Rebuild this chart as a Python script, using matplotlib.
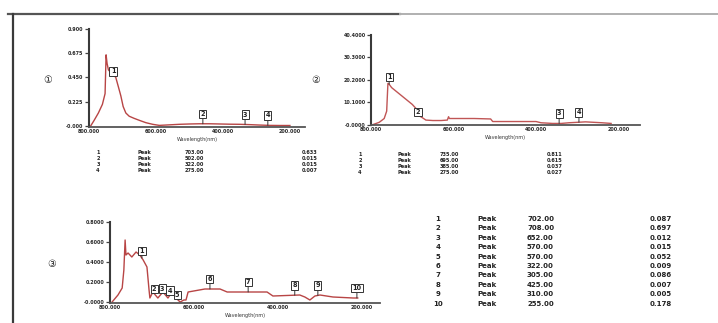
import numpy as np
import matplotlib
matplotlib.use("Agg")
import matplotlib.pyplot as plt
from matplotlib.lines import Line2D

plt.rcParams['font.family'] = ['DejaVu Sans', 'Noto Sans CJK SC']

W, H = 718, 323

# ---------------- data ----------------
# Spectrum 1
wl1 = [795, 785, 772, 760, 752, 749, 746, 742, 736, 728, 720, 712, 705, 698, 690, 680,
       665, 648, 630, 610, 590, 560, 530, 500, 470, 440, 410, 380, 350, 320, 290, 260, 230, 200]
ab1 = [0.00, 0.05, 0.12, 0.20, 0.30, 0.66, 0.58, 0.52, 0.50, 0.48, 0.45, 0.36, 0.28, 0.18,
       0.12, 0.09, 0.07, 0.05, 0.03, 0.015, 0.005, 0.01, 0.015, 0.018, 0.02, 0.02, 0.018,
       0.016, 0.015, 0.012, 0.008, 0.005, 0.004, 0.004]
peaks1 = [728, 460, 334, 266]
yticks1 = [0.0, 0.225, 0.45, 0.675, 0.9]
ytick_labels1 = ["-0.000", "0.225", "0.450", "0.675", "0.900"]

# Spectrum 2
wl2 = [795, 780, 768, 762, 759, 756, 750, 740, 730, 720, 710, 700, 691, 686, 684, 675, 667,
       650, 630, 615, 612, 610, 606, 580, 550, 510, 505, 480, 440, 400, 388, 360, 339, 320,
       300, 280, 260, 240, 218]
ab2 = [0.00, 0.01, 0.027, 0.06, 0.184, 0.18, 0.165, 0.15, 0.135, 0.12, 0.105, 0.09, 0.072,
       0.055, 0.04, 0.03, 0.02, 0.018, 0.018, 0.02, 0.035, 0.027, 0.027, 0.027, 0.027, 0.025,
       0.0135, 0.0135, 0.0135, 0.0135, 0.008, 0.005, 0.005, 0.008, 0.01, 0.012, 0.01, 0.008, 0.005]
peaks2 = [756, 686, 344, 296]
yticks2 = [0.0, 0.1, 0.2, 0.3, 0.4]
ytick_labels2 = ["-0.0000", "10.1000", "20.2000", "30.3000", "40.4000"]

# Spectrum 3
wl3 = [795, 781, 771, 767, 764, 762, 757, 748, 738, 729, 721, 712, 707, 705, 698, 686, 674,
       662, 652, 643, 633, 624, 619, 614, 574, 538, 521, 426, 412, 348, 336, 324, 312, 300,
       269, 221, 210]
ab3 = [0.00, 0.07, 0.14, 0.32, 0.62, 0.47, 0.49, 0.45, 0.50, 0.47, 0.42, 0.35, 0.12, 0.04,
       0.10, 0.04, 0.10, 0.04, 0.10, 0.04, 0.00, 0.02, 0.02, 0.10, 0.13, 0.13, 0.10, 0.10,
       0.06, 0.07, 0.05, 0.02, 0.06, 0.07, 0.05, 0.04, 0.04]
peaks3 = [724, 695, 676, 657, 640, 562, 471, 360, 305, 212]
yticks3 = [0.0, 0.2, 0.4, 0.6, 0.8]
ytick_labels3 = ["-0.0000", "0.2000", "0.4000", "0.6000", "0.8000"]

xticks = [800, 600, 400, 200]
xtick_labels = ["800.000", "600.000", "400.000", "200.000"]
xlabel = "Wavelength(nm)"

table1 = [("1", "Peak", "703.00", "0.633"),
          ("2", "Peak", "502.00", "0.015"),
          ("3", "Peak", "322.00", "0.015"),
          ("4", "Peak", "275.00", "0.007")]
table2 = [("1", "Peak", "735.00", "0.811"),
          ("2", "Peak", "695.00", "0.615"),
          ("3", "Peak", "385.00", "0.037"),
          ("4", "Peak", "275.00", "0.027")]
table3 = [("1", "Peak", "702.00", "0.087"),
          ("2", "Peak", "708.00", "0.697"),
          ("3", "Peak", "652.00", "0.012"),
          ("4", "Peak", "570.00", "0.015"),
          ("5", "Peak", "570.00", "0.052"),
          ("6", "Peak", "322.00", "0.009"),
          ("7", "Peak", "305.00", "0.086"),
          ("8", "Peak", "425.00", "0.007"),
          ("9", "Peak", "310.00", "0.005"),
          ("10", "Peak", "255.00", "0.178")]

# ---------------- helpers ----------------
def fx(x):
    return x / W

def fy(y):
    return 1 - y / H

fig = plt.figure(figsize=(W / 100, H / 100), dpi=100)
fig.patch.set_facecolor('white')

# frame of the scanned page
fig.add_artist(Line2D([fx(8), fx(400)], [fy(14), fy(14)], color='#555555', lw=1.6))
fig.add_artist(Line2D([fx(400), fx(718)], [fy(14), fy(14)], color='#b0b0b0', lw=1.4))
fig.add_artist(Line2D([fx(13), fx(13)], [fy(14), fy(323)], color='#3a3a3a', lw=1.6))


def make_axes(left, right, top, bottom, xlim, ylim, yticks, ylabels, wl, ab, peaks,
              offsets, color, fs):
    ax = fig.add_axes([fx(left), fy(bottom), fx(right - left), fy(top) - fy(bottom)])
    ax.plot(wl, ab, color=color, lw=1.0)
    ax.set_xlim(*xlim)
    ax.set_ylim(*ylim)
    for s in ['top', 'right']:
        ax.spines[s].set_visible(False)
    ax.spines['left'].set_color('#3a3a3a')
    ax.spines['left'].set_linewidth(1.5)
    ax.spines['bottom'].set_color('#555555')
    ax.spines['bottom'].set_linewidth(1.3)
    ax.set_yticks(yticks)
    ax.set_yticklabels(ylabels, fontsize=fs, color='#2a2a2a', fontweight='bold')
    ax.set_xticks(xticks)
    ax.set_xticklabels(xtick_labels, fontsize=fs, color='#2a2a2a', fontweight='bold')
    ax.tick_params(axis='y', length=3, width=0.9, pad=1, color='#444444')
    ax.tick_params(axis='x', length=0, pad=1.5)
    ax.set_xlabel(xlabel, fontsize=fs, color='#333333', labelpad=2)
    ax.patch.set_alpha(0)
    order = np.argsort(wl)
    xs = np.array(wl)[order]
    ys = np.array(ab)[order]
    for i, (p, off) in enumerate(zip(peaks, offsets)):
        yv = np.interp(p, xs, ys)
        ax.annotate(str(i + 1), xy=(p, yv), xytext=(0, off), textcoords='offset points',
                    ha='center', va='bottom', fontsize=fs + 1.2, color='#222222',
                    fontweight='bold',
                    bbox=dict(boxstyle='square,pad=0.2', fc='white', ec='#333333', lw=0.7),
                    arrowprops=dict(arrowstyle='-', lw=0.7, color='#333333',
                                    shrinkA=0, shrinkB=0))
    return ax


make_axes(89, 305, 29, 127, (800, 155), (-0.01, 0.9), yticks1, ytick_labels1,
          wl1, ab1, peaks1, [0, 5, 5, 5], '#b84545', 3.5)
make_axes(371, 640, 35, 125, (800, 148), (-0.002, 0.4), yticks2, ytick_labels2,
          wl2, ab2, peaks2, [3, -2, 5, 5], '#c05555', 3.5)
make_axes(110, 380, 222, 303, (800, 157), (-0.01, 0.8), yticks3, ytick_labels3,
          wl3, ab3, peaks3, [3, 1, 1, 1, 1, 5, 5, 5, 5, 5], '#b84545', 3.5)

# panel markers
circ_fs = 7
fig.text(fx(48), fy(80), "①", fontsize=circ_fs, ha='center', va='center', color='#222222')
fig.text(fx(316), fy(80), "②", fontsize=circ_fs, ha='center', va='center', color='#222222')
fig.text(fx(52), fy(264), "③", fontsize=circ_fs, ha='center', va='center', color='#222222')


def draw_table(rows, y0, dy, cols, fs):
    for i, row in enumerate(rows):
        y = fy(y0 + i * dy)
        fig.text(fx(cols[0]), y, row[0], fontsize=fs, ha='center', va='center',
                 fontweight='bold', color='#222222')
        for c, t in zip(cols[1:], row[1:]):
            fig.text(fx(c), y, t, fontsize=fs, ha='left', va='center',
                     fontweight='bold', color='#222222')


draw_table(table1, 153, 6, [98, 138, 185, 302], 3.6)
draw_table(table2, 155, 6, [360, 397, 440, 547], 3.6)
draw_table(table3, 219, 9.4, [438, 477, 527, 650], 5.0)

fig.savefig("out.png", dpi=100, facecolor='white')
